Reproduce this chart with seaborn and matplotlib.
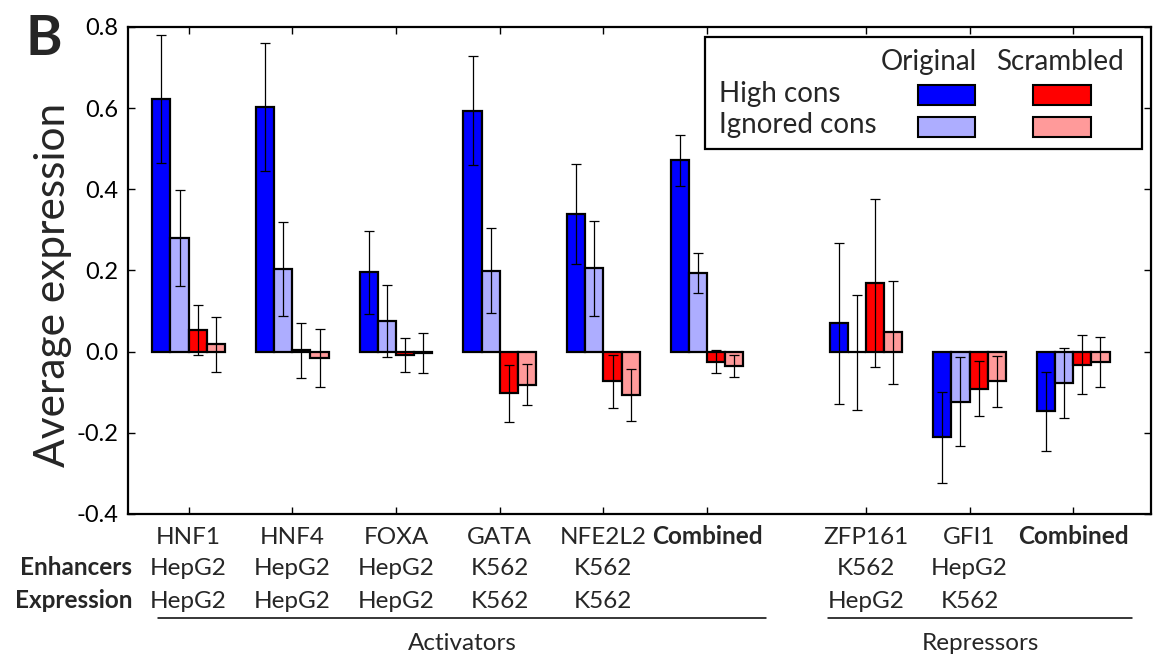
"""
Grouped bar chart: average expression for high/ignored conservation, original vs scrambled.
"""
import matplotlib

matplotlib.use("Agg")
import matplotlib.pyplot as plt
import matplotlib.transforms as mtransforms
from matplotlib.patches import Rectangle
import pandas as pd
import seaborn as sns

# ---- data ----
groups = ["HNF1", "HNF4", "FOXA", "GATA", "NFE2L2", "Combined", "ZFP161", "GFI1", "Combined"]
enhancers = ["HepG2", "HepG2", "HepG2", "K562", "K562", "", "K562", "HepG2", ""]
expression = ["HepG2", "HepG2", "HepG2", "K562", "K562", "", "HepG2", "K562", ""]
group_pos = [0, 1, 2, 3, 4, 5, 6.53, 7.53, 8.53]

high_orig = [0.623, 0.603, 0.195, 0.594, 0.339, 0.471, 0.070, -0.211, -0.147]
high_orig_err = [0.158, 0.158, 0.102, 0.134, 0.124, 0.063, 0.198, 0.112, 0.098]
ign_orig = [0.280, 0.204, 0.075, 0.199, 0.206, 0.193, -0.002, -0.123, -0.077]
ign_orig_err = [0.118, 0.115, 0.089, 0.105, 0.117, 0.049, 0.141, 0.110, 0.086]
high_scr = [0.054, 0.003, -0.009, -0.103, -0.073, -0.025, 0.169, -0.091, -0.032]
high_scr_err = [0.062, 0.068, 0.042, 0.070, 0.065, 0.028, 0.208, 0.068, 0.072]
ign_scr = [0.018, -0.015, -0.003, -0.081, -0.107, -0.036, 0.048, -0.073, -0.026]
ign_scr_err = [0.067, 0.072, 0.049, 0.050, 0.065, 0.027, 0.127, 0.063, 0.062]

series_names = ["High cons / Original", "Ignored cons / Original",
                "High cons / Scrambled", "Ignored cons / Scrambled"]
series_colors = ["#0000ff", "#adadff", "#ff0000", "#ff9a9a"]
yticks = [-0.4, -0.2, 0.0, 0.2, 0.4, 0.6, 0.8]

sns.set_theme(style="ticks")
plt.rcParams["font.family"] = ["Lato", "DejaVu Sans"]
plt.rcParams["axes.unicode_minus"] = False

values = [high_orig, ign_orig, high_scr, ign_scr]
errors = [high_orig_err, ign_orig_err, high_scr_err, ign_scr_err]

rows = []
for name, vals in zip(series_names, values):
    for p, v in zip(group_pos, vals):
        rows.append({"pos": p, "value": v, "series": name})
df = pd.DataFrame(rows)

fig = plt.figure(figsize=(11.57, 6.56), dpi=100)
ax = fig.add_axes([0.1106, 0.2165, 0.8842, 0.7424])

group_width = 0.7
sns.barplot(
    data=df, x="pos", y="value", hue="series", hue_order=series_names,
    palette=dict(zip(series_names, series_colors)), native_scale=True,
    width=group_width, saturation=1, errorbar=None, edgecolor="black",
    linewidth=1.6, legend=False, ax=ax,
)

bw = group_width / len(series_names)
for j, (vals, errs) in enumerate(zip(values, errors)):
    xs = [p + (j - 1.5) * bw for p in group_pos]
    ax.errorbar(xs, vals, yerr=errs, fmt="none", ecolor="black", elinewidth=0.9,
                capsize=3.6, capthick=0.9, zorder=3)

ax.set_xlim(-0.585, 9.28)
ax.set_ylim(-0.4, 0.8)
ax.set_yticks(yticks)
ax.set_yticklabels([f"{t:.1f}" for t in yticks])
ax.set_xticks(group_pos)
ax.tick_params(axis="both", direction="in", top=True, right=True, length=5, width=1,
               labelsize=17, pad=7, colors="black")
ax.tick_params(axis="x", labelbottom=False)
ax.set_xlabel("")
ax.set_ylabel("")
for sp in ax.spines.values():
    sp.set_linewidth(1.6)
    sp.set_color("black")

ax.text(-0.073, 0.47, "Average expression", rotation=90, ha="center", va="center",
        fontsize=30.5, transform=ax.transAxes)

# category labels under the axis
lab_size = 17.5
trans = mtransforms.blended_transform_factory(ax.transData, ax.transAxes)
for p, g, en, ex in zip(group_pos, groups, enhancers, expression):
    weight = "bold" if g == "Combined" else "normal"
    ax.text(p, -0.0616, g, ha="center", va="baseline", fontsize=lab_size,
            fontweight=weight, transform=trans)
    ax.text(p, -0.1253, en, ha="center", va="baseline", fontsize=lab_size, transform=trans)
    ax.text(p, -0.193, ex, ha="center", va="baseline", fontsize=lab_size, transform=trans)
ax.text(0.004, -0.1253, "Enhancers", ha="right", va="baseline", fontsize=lab_size,
        fontweight="bold", transform=ax.transAxes)
ax.text(0.004, -0.193, "Expression", ha="right", va="baseline", fontsize=lab_size,
        fontweight="bold", transform=ax.transAxes)

ax.plot([-0.296, 5.567], [-0.2146, -0.2146], color="black", lw=1.1, clip_on=False,
        transform=trans)
ax.plot([6.17, 9.097], [-0.2146, -0.2146], color="black", lw=1.1, clip_on=False,
        transform=trans)
ax.text((-0.296 + 5.567) / 2, -0.279, "Activators", ha="center", va="baseline",
        fontsize=lab_size, transform=trans)
ax.text((6.17 + 9.097) / 2, -0.279, "Repressors", ha="center", va="baseline",
        fontsize=lab_size, transform=trans)

# hand-built 2x2 legend
leg_size = 20
ax.add_patch(Rectangle((0.564, 0.7495), 0.427, 0.2295, transform=ax.transAxes,
                       facecolor="white", edgecolor="black", lw=1.6, zorder=5))
ax.text(0.783, 0.912, "Original", ha="center", va="baseline", fontsize=leg_size,
        transform=ax.transAxes, zorder=6)
ax.text(0.911, 0.912, "Scrambled", ha="center", va="baseline", fontsize=leg_size,
        transform=ax.transAxes, zorder=6)
ax.text(0.578, 0.845, "High cons", ha="left", va="baseline", fontsize=leg_size,
        transform=ax.transAxes, zorder=6)
ax.text(0.578, 0.782, "Ignored cons", ha="left", va="baseline", fontsize=leg_size,
        transform=ax.transAxes, zorder=6)
cols = [0.772, 0.885]
rows_y = [0.840, 0.774]
for j, c in enumerate(series_colors):
    col = cols[j // 2]
    row = rows_y[j % 2]
    ax.add_patch(Rectangle((col, row), 0.056, 0.041, transform=ax.transAxes,
                           facecolor=c, edgecolor="black", lw=1.5, zorder=6))

fig.text(26 / 1157, 1 - 55 / 656, "B", fontsize=40, fontweight="bold", va="baseline")

fig.savefig("out.png", dpi=100)
